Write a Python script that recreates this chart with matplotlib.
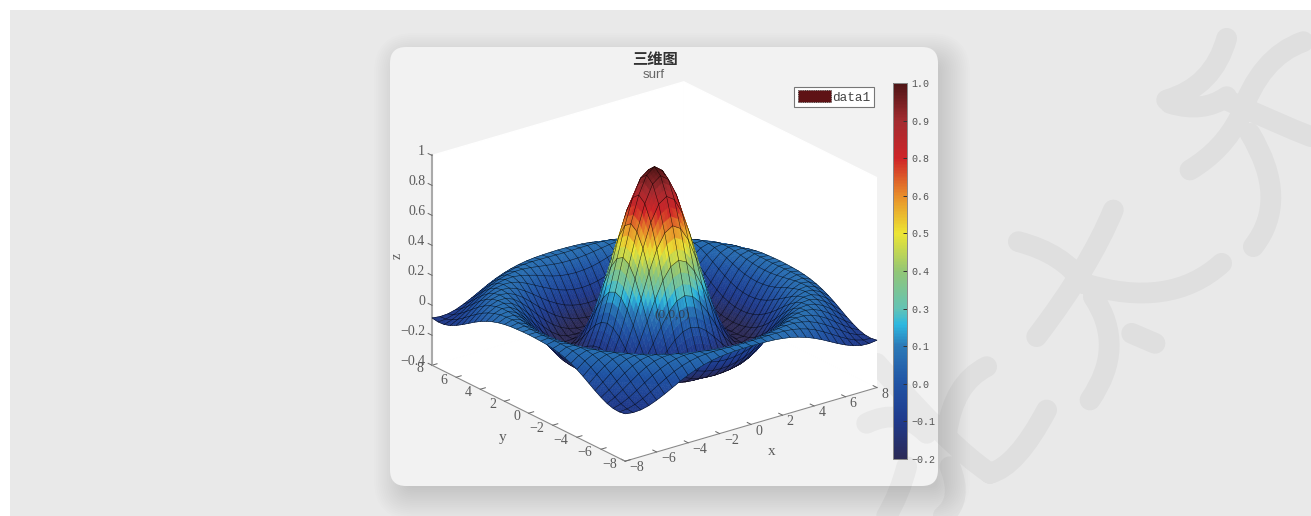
import numpy as np
import matplotlib
matplotlib.use("Agg")
import matplotlib.pyplot as plt
from matplotlib.cm import ScalarMappable
from matplotlib.colors import LinearSegmentedColormap, Normalize
from matplotlib.patches import FancyBboxPatch, PathPatch, Patch, Rectangle
from matplotlib.path import Path
from mpl_toolkits.mplot3d import proj3d
from mpl_toolkits.mplot3d.art3d import Poly3DCollection

W, H = 1311, 516

# ---------- data ----------
grid_values = [-8 + 0.5 * k for k in range(33)]
# surface heights read for one octant (|x|/0.5 = row, |y|/0.5 = column, column <= row)
octant_z = [
    [1.000],
    [.959, .919],
    [.841, .804, .699],
    [.665, .632, .540, .402],
    [.455, .428, .352, .239, .109],
    [.239, .219, .161, .077, -.019, -.109],
    [.047, .033, -.006, -.063, -.124, -.177, -.210],
    [-.100, -.109, -.131, -.162, -.193, -.213, -.216, -.196],
    [-.189, -.193, -.202, -.212, -.217, -.212, -.192, -.155, -.104],
    [-.217, -.217, -.216, -.211, -.199, -.176, -.142, -.097, -.043, .013],
    [-.192, -.189, -.182, -.167, -.145, -.114, -.074, -.029, .019, .064, .100],
    [-.128, -.125, -.114, -.097, -.071, -.040, -.003, .036, .073, .104, .123, .128],
    [-.047, -.043, -.033, -.016, .007, .033, .061, .088, .112, .125, .128, .118, .095],
    [.033, .036, .043, .056, .073, .092, .107, .121, .128, .126, .115, .093, .062, .025],
    [.094, .095, .100, .107, .115, .123, .128, .128, .121, .107, .085, .056, .022, -.013, -.046],
    [.125, .126, .127, .128, .128, .126, .121, .110, .094, .072, .044, .013, -.019, -.048, -.072, -.087],
    [.124, .123, .121, .118, .112, .103, .090, .073, .052, .027, -.001, -.029, -.054, -.075, -.088, -.091, -.084],
]
x_ticks = [-8, -6, -4, -2, 0, 2, 4, 6, 8]
y_ticks = [-8, -6, -4, -2, 0, 2, 4, 6, 8]
z_ticks = [-0.4, -0.2, 0, 0.2, 0.4, 0.6, 0.8, 1]
z_tick_labels = ["\u22120.4", "\u22120.2", "0", "0.2", "0.4", "0.6", "0.8", "1"]
cbar_ticks = [-0.2, -0.08, 0.04, 0.16, 0.28, 0.40, 0.52, 0.64, 0.76, 0.88, 1.0]
cbar_labels = ["\u22120.2", "\u22120.1", "0.0", "0.1", "0.3", "0.4", "0.5", "0.6", "0.8", "0.9", "1.0"]
title_text = "三维图"
subtitle_text = "surf"
legend_label = "data1"

# ---------- helpers ----------
x_arr = np.array(grid_values)
X, Y = np.meshgrid(x_arr, x_arr)
n = len(grid_values)
Z = np.zeros((n, n))
for r_i in range(n):
    for c_i in range(n):
        a = abs(r_i - 16)
        b = abs(c_i - 16)
        Z[r_i, c_i] = octant_z[max(a, b)][min(a, b)]


def fx(x):
    return x / W


def fy(y):
    return 1 - y / H


stops = [(-0.2, "#2c2a56"), (-0.08, "#1f3a8c"), (0.04, "#2053a4"), (0.16, "#2c7ab8"),
         (0.228, "#2db8e0"), (0.28, "#63c3b5"), (0.40, "#93c675"), (0.52, "#ece534"),
         (0.64, "#e88e2a"), (0.76, "#cf2428"), (0.88, "#a32b30"), (1.0, "#4e1516")]
cmap = LinearSegmentedColormap.from_list("surf_jet", [((v + 0.2) / 1.2, c) for v, c in stops], N=256)
norm = Normalize(-0.2, 1.0)

fig = plt.figure(figsize=(W / 100, H / 100), dpi=100, facecolor="white")

# ---------- page background ----------
bg = fig.add_axes([0, 0, 1, 1], zorder=0)
bg.set_xlim(0, W)
bg.set_ylim(H, 0)
bg.axis("off")
bg.add_patch(Rectangle((10, 10), W - 10, H - 10, fc="#e9e9e9", ec="none"))

for grow in np.linspace(24, -8, 18):
    bg.add_patch(FancyBboxPatch((390 + 8 - grow, 47 + 10 - grow), 548 + 2 * grow, 439 + 2 * grow,
                                boxstyle=f"round,pad=0,rounding_size={max(16 + grow, 6)}",
                                fc="black", ec="none", alpha=0.008))
bg.add_patch(FancyBboxPatch((390, 47), 548, 439, boxstyle="round,pad=0,rounding_size=16",
                            fc="#f2f2f2", ec="none"))

wm_strokes = [
    [(505, 725), (640, 760), (700, 850)], [(700, 850), (960, 930), (1115, 790)],
    [(790, 630), (720, 800), (560, 1010)], [(730, 890), (830, 1040), (720, 1200)],
    [(845, 1000), (880, 1015), (915, 1030)],
    [(1130, 115), (1090, 260), (950, 300)], [(960, 310), (1060, 340), (1130, 290)],
    [(1130, 300), (1280, 370), (1383, 410)], [(1360, 125), (1230, 170), (1170, 350)],
    [(1170, 350), (1120, 450), (1020, 510)], [(1200, 400), (1320, 600), (1210, 740)],
    [(80, 1090), (300, 1340), (420, 1420)], [(420, 1420), (500, 1400), (590, 1230)],
    [(410, 1100), (310, 1150), (290, 1300)], [(50, 1270), (150, 1220), (230, 1300)],
    [(300, 1400), (340, 1500), (280, 1548)], [(170, 1400), (150, 1480), (110, 1548)],
]
verts, codes = [], []
for p0, c, p1 in wm_strokes:
    for p, code in zip((p0, c, p1), (Path.MOVETO, Path.CURVE3, Path.CURVE3)):
        verts.append((850 + p[0] / 3, p[1] / 3))
        codes.append(code)
bg.add_patch(PathPatch(Path(verts, codes), fc="none", ec="black", alpha=0.04, lw=15,
                       capstyle="round", joinstyle="round"))

# ---------- 3D axes ----------
ax = fig.add_axes([0.2, 0.0, 500 / W, 500 / H], projection="3d", zorder=2)
ax.patch.set_visible(False)
ax.set_proj_type("ortho")
ELEV, AZIM = 22.4, -127.5
BOX_Z = 0.715
ax.view_init(elev=ELEV, azim=AZIM)
ax.set_box_aspect((1, 1, BOX_Z))

# smooth colour shading: every mesh cell is painted in SUB steps, the mesh lines stay on the data grid
SUB = 3
u = np.linspace(0, n - 1, (n - 1) * SUB + 1)
i0 = np.minimum(np.floor(u).astype(int), n - 2)
w = u - i0
Zf = (Z[np.ix_(i0, i0)] * np.outer(1 - w, 1 - w) + Z[np.ix_(i0 + 1, i0)] * np.outer(w, 1 - w)
      + Z[np.ix_(i0, i0 + 1)] * np.outer(1 - w, w) + Z[np.ix_(i0 + 1, i0 + 1)] * np.outer(w, w))
xf = x_arr[i0] + w * 0.5
Xf, Yf = np.meshgrid(xf, xf)
Pf = np.stack([Xf, Yf, Zf], axis=-1)
quads = np.stack([Pf[:-1, :-1], Pf[:-1, 1:], Pf[1:, 1:], Pf[1:, :-1]], axis=2).reshape(-1, 4, 3)
quad_col = cmap(norm(quads[:, :, 2].mean(axis=1)))

# mesh segments, moved a little toward the viewer along the line of sight (no change on screen)
az, el = np.radians(AZIM), np.radians(ELEV)
nudge = 0.02 * np.array([np.cos(el) * np.cos(az) * 16, np.cos(el) * np.sin(az) * 16, np.sin(el) * 1.4 / BOX_Z])
segs = []
for k in range(n):
    line_a = Pf[k * SUB, :]
    line_b = Pf[:, k * SUB]
    for line in (line_a, line_b):
        for p, q in zip(line[:-1], line[1:]):
            segs.append([p + nudge, q + nudge, q + nudge, p + nudge])
segs = np.array(segs)
all_polys = np.concatenate([quads, segs], axis=0)
faces = np.concatenate([quad_col, np.zeros((len(segs), 4))], axis=0)
edges = np.concatenate([quad_col, np.tile([0, 0, 0, 0.78], (len(segs), 1))], axis=0)
surf = Poly3DCollection(all_polys, facecolors=faces, edgecolors=edges, linewidths=0.38)
ax.add_collection3d(surf, autolim=False)

ax.set_xlim(-8, 8, view_margin=0)
ax.set_ylim(-8, 8, view_margin=0)
ax.set_zlim(-0.4, 1, view_margin=0)

ax.grid(False)
for axis in (ax.xaxis, ax.yaxis, ax.zaxis):
    axis.set_pane_color("white")
    axis.pane.set_edgecolor("white")
    axis.line.set_color("#8a8a8a")
    axis.line.set_linewidth(0.8)
    axis._axinfo["tick"]["inward_factor"] = 0.0
    axis._axinfo["tick"]["outward_factor"] = 0.25
    axis._axinfo["tick"]["linewidth"] = {True: 0.7, False: 0.5}
ax.zaxis.line.set_color("#aaaaaa")
ax.zaxis.line.set_linewidth(1.5)
ax.zaxis._get_tickdir = lambda position: 1   # z ticks run along y, away from the box

serif = {"family": "Liberation Serif", "size": 10, "color": "#5a5a5a"}
ax.set_xticks(x_ticks)
ax.set_yticks(y_ticks)
ax.set_zticks(z_ticks)
ax.set_xticklabels([str(v).replace("-", "\u2212") for v in x_ticks], ha="left", va="center", **serif)
ax.set_yticklabels([str(v).replace("-", "\u2212") for v in y_ticks], ha="right", va="bottom", **serif)
ax.set_zticklabels(z_tick_labels, ha="right", va="baseline", **serif)
ax.tick_params(axis="x", pad=-4.0, color="#666666")
ax.tick_params(axis="y", pad=-1.8, color="#666666")
ax.tick_params(axis="z", pad=-5.2, color="#666666")
ax.xaxis._axinfo["label"]["ha"] = "left"
ax.yaxis._axinfo["label"]["ha"] = "right"
ax.zaxis._axinfo["label"]["ha"] = "left"
ax.set_xlabel("x", labelpad=-5, **{**serif, "size": 11})
ax.set_ylabel("y", labelpad=-5, **{**serif, "size": 11})
ax.zaxis.set_rotate_label(False)
ax.set_zlabel("z", labelpad=-6.5, rotation=90, **serif)

# align the box with the reference by moving the axes
corners = [(-8, 8, -0.4), (-8, -8, -0.4), (8, -8, -0.4), (8, 8, 1), (-8, 8, 1), (8, -8, 1)]
S, cx, cy = 500.0, 650.0, 270.0
target_w = 877 - 432
target_cx = (877 + 432) / 2
target_cy = (83 + 460) / 2
for _ in range(4):
    ax.set_position([fx(cx - S / 2), fy(cy + S / 2), S / W, S / H])
    fig.canvas.draw()
    M = ax.get_proj()
    pts = []
    for c in corners:
        xp, yp, _z = proj3d.proj_transform(*c, M)
        pts.append(ax.transData.transform((xp, yp)))
    pts = np.array(pts)
    S *= target_w / (pts[:, 0].max() - pts[:, 0].min())
    cx += target_cx - (pts[:, 0].max() + pts[:, 0].min()) / 2
    cy += target_cy - (H - (pts[:, 1].max() + pts[:, 1].min()) / 2)
ax.set_position([fx(cx - S / 2), fy(cy + S / 2), S / W, S / H])

# ---------- colorbar ----------
cax = fig.add_axes([fx(893), fy(459), 14 / W, 376 / H], zorder=3)
cb = fig.colorbar(ScalarMappable(norm=norm, cmap=cmap), cax=cax)
cb.set_ticks(cbar_ticks)
cb.set_ticklabels(cbar_labels)
cb.minorticks_off()
cb.outline.set_edgecolor("#888888")
cb.outline.set_linewidth(0.7)
cax.tick_params(axis="y", direction="in", length=3, width=0.7, color="#333333", pad=3,
                labelsize=7.2, labelcolor="#555555")
for t in cax.get_yticklabels():
    t.set_family("Liberation Mono")

# ---------- texts ----------
fig.text(fx(654.5), fy(59), title_text, family=["Noto Sans CJK SC", "DejaVu Sans"], weight="bold",
         size=11, color="#333333", ha="center", va="center", zorder=5)
fig.text(fx(653.5), fy(74.5), subtitle_text, family="Liberation Sans", size=9.5, color="#666666",
         ha="center", va="center", zorder=5)
fig.text(fx(672), fy(315), "(0,0,0)", family="Liberation Serif", size=9.5, color="#333333",
         alpha=0.75, ha="center", va="center", zorder=5)

leg = fig.legend(handles=[Patch(fc="#5e1215", ec="#222222", ls=":", lw=0.6, label=legend_label)],
                 loc="center", bbox_to_anchor=(fx(834), fy(97)), frameon=True, fancybox=False,
                 prop={"family": "Liberation Mono", "size": 9.2}, handlelength=2.6, handleheight=1.0,
                 handletextpad=0.12, borderpad=0.28, borderaxespad=0, labelcolor="#444444")
leg.get_frame().set_edgecolor("#777777")
leg.get_frame().set_facecolor("white")
leg.get_frame().set_alpha(1)
leg.get_frame().set_linewidth(0.8)
leg.set_zorder(6)

fig.savefig("out.png", dpi=100)
